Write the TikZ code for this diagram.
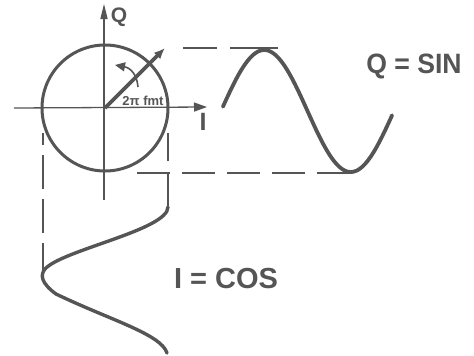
\documentclass[tikz,border=0pt]{standalone}
\usepackage{fontspec}
\setmainfont{Liberation Sans}
\usetikzlibrary{arrows.meta}
\definecolor{ink}{HTML}{555555}
\begin{document}
\begin{tikzpicture}[x=1pt,y=-1pt,
  axisline/.style={draw=ink,line width=1.3pt},
  guide/.style={draw=ink,line width=2.6pt},
  wave/.style={draw=ink,line width=3.8pt,line cap=round},
  lbl/.style={text=ink,inner sep=0pt}]
\useasboundingbox (0,0) rectangle (474,356);
\fill[white] (0,0) rectangle (474,356);
% key points
\coordinate (O) at (105,108);
\coordinate (vtop) at (104,4);
\coordinate (vbot) at (104,200);
\coordinate (hleft) at (14,108);
\coordinate (hright) at (207,107);
\coordinate (R) at (165,48);
\coordinate (topL) at (183,48);
\coordinate (topR) at (278,48);
\coordinate (trough) at (350,173);
\coordinate (botL) at (135,173);
\coordinate (cosTop) at (168,207);
\coordinate (cusp) at (43,277);
\coordinate (cosEnd) at (167,353);
\coordinate (rvEnd) at (168,133);
\coordinate (lvEnd) at (43,133);
\coordinate (rotA) at (138,87);
\coordinate (rotB) at (115,65);
% axes
\draw[axisline,-{Triangle[length=15pt,width=7pt]}] (vbot) -- (vtop);
\draw[axisline,-{Triangle[length=13pt,width=9pt]}] (hleft) -- (hright);
% circle
\draw[ink,line width=3pt] (O) circle[radius=63];
% radius vector
\draw[ink,line width=3.6pt,-{Latex[length=11pt,width=9pt]}] (O) -- (R);
% rotation arrow
\draw[ink,line width=1.6pt,-{Triangle[length=10pt,width=9pt]}] (rotA) .. controls (137,75) and (131,68) .. (rotB);
% guides
\draw[guide,dash pattern=on 34pt off 13pt on 50pt off 10pt] (topL) -- (topR);
\draw[guide,dash pattern=on 33pt off 12pt] (trough) -- (botL);
\draw[guide,dash pattern=on 35pt off 11pt] (cosTop) -- (rvEnd);
\draw[guide,dash pattern=on 34pt off 10pt] (cusp) -- (lvEnd);
% sine
\draw[wave] plot[domain=4:356,samples=90] ({221+0.48056*\x},{111-61*sin(\x)});
% cosine
\draw[wave,line width=3.4pt] (cosTop) .. controls (168,230) and (62,250) .. (45,269)
  .. controls (40,275) and (41,283) .. (56,294)
  .. controls (110,320) and (161,334) .. (cosEnd);
% labels
\node[lbl,font=\bfseries\fontsize{21}{21}\selectfont] (q) at (119,17) {Q};
\node[lbl,font=\bfseries\fontsize{25}{25}\selectfont] (i) at (203,122) {I};
\node[lbl,font=\bfseries\fontsize{13}{13}\selectfont] (ang) at (143,101) {2π fmt};
\node[lbl,font=\bfseries\fontsize{28}{28}\selectfont] (sin) at (414,66) {\scalebox{0.95}[1]{Q = SIN}};
\node[lbl,font=\bfseries\fontsize{29}{29}\selectfont] (cos) at (226,279) {I = COS};
\end{tikzpicture}
\end{document}
